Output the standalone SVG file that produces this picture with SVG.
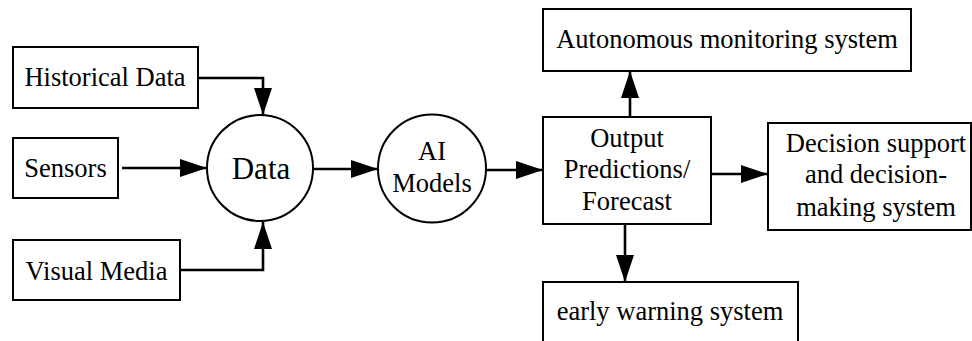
<svg xmlns="http://www.w3.org/2000/svg" width="972" height="341" viewBox="0 0 972 341">
<style>
.box{fill:#fff;stroke:#000;stroke-width:2}
.c{fill:none;stroke:#000;stroke-width:2.6}
</style>
<defs>
<marker id="ah" viewBox="0 0 27 18" refX="27" refY="9" markerWidth="27" markerHeight="18" markerUnits="userSpaceOnUse" orient="auto">
<path d="M0,0 L27,9 L0,18 z" fill="#000"/>
</marker>
</defs>
<rect width="972" height="341" fill="#fff"/>
<g id="connectors">
<path class="c" d="M198,78 H263 V115" marker-end="url(#ah)"/>
<path class="c" d="M122,168 H207" marker-end="url(#ah)"/>
<path class="c" d="M180,270 H263 V222" marker-end="url(#ah)"/>
<path class="c" d="M313,169 H378" marker-end="url(#ah)"/>
<path class="c" d="M486,170 H543" marker-end="url(#ah)"/>
<path class="c" d="M630,117 V71" marker-end="url(#ah)"/>
<path class="c" d="M711,174 H768" marker-end="url(#ah)"/>
<path class="c" d="M625,224 V282" marker-end="url(#ah)"/>
</g>
<g font-family="Liberation Serif, serif" font-size="26.5" text-anchor="middle" fill="#000">
<g id="historical">
<rect class="box" x="13" y="47" width="185" height="61"/>
<text x="105" y="86">Historical Data</text>
</g>
<g id="sensors">
<rect class="box" x="13" y="138" width="105" height="60"/>
<text x="65.5" y="177">Sensors</text>
</g>
<g id="visual">
<rect class="box" x="13" y="240" width="167" height="60"/>
<text x="96.5" y="280">Visual Media</text>
</g>
<g id="data">
<circle class="box" cx="260" cy="168" r="53"/>
<text x="261" y="179" font-size="31">Data</text>
</g>
<g id="ai">
<circle class="box" cx="432" cy="168.5" r="54"/>
<text x="432" y="160">AI</text>
<text x="432" y="192">Models</text>
</g>
<g id="output">
<rect class="box" x="543" y="117" width="168" height="107"/>
<text x="627" y="147">Output</text>
<text x="627" y="178">Predictions/</text>
<text x="627" y="210">Forecast</text>
</g>
<g id="autonomous">
<rect class="box" x="543" y="9" width="368" height="62"/>
<text x="727" y="48">Autonomous monitoring system</text>
</g>
<g id="decision">
<rect class="box" x="768" y="123" width="203" height="107"/>
<text x="876" y="152">Decision support</text>
<text x="876" y="183">and decision-</text>
<text x="876" y="216">making system</text>
</g>
<g id="early">
<rect class="box" x="543" y="282" width="255" height="70"/>
<text x="670" y="320">early warning system</text>
</g>
</g>
</svg>
